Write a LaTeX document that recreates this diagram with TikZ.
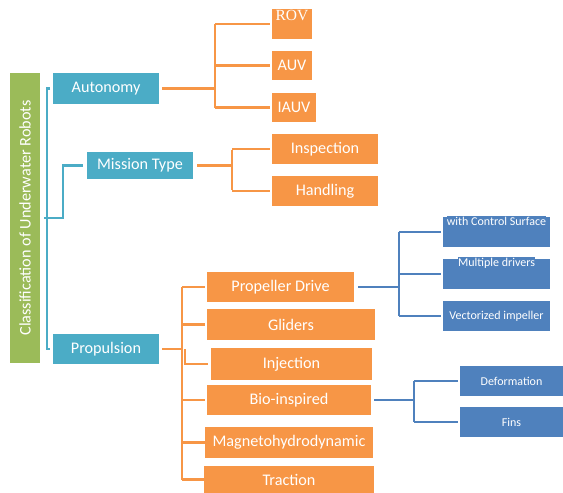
\documentclass[tikz,border=0pt]{standalone}
\usepackage{fontspec}
\setmainfont{Carlito}
\newfontfamily\serifcam{Liberation Serif}
\definecolor{teal1}{HTML}{4BACC6}
\definecolor{orng}{HTML}{F79646}
\definecolor{blu}{HTML}{4F81BD}
\definecolor{grn}{HTML}{9BBB59}
\begin{document}
\begin{tikzpicture}[x=1pt,y=-1pt,
  box/.style={inner sep=0pt,outer sep=0pt,text=white,font=\fontsize{16.2}{18}\selectfont},
  tbox/.style={box,fill=teal1},
  obox/.style={box,fill=orng},
  bbox/.style={box,fill=blu,font=\fontsize{12}{14}\selectfont},
  tline/.style={draw=teal1,line width=2.5pt},
  oline/.style={draw=orng,line width=2.5pt},
  bline/.style={draw=blu,line width=2.5pt}]
\useasboundingbox (0,0) rectangle (563,493);
% root
\node[box,fill=grn,minimum width=290,minimum height=30,rotate=90] (root) at (25,218) {Classification of Underwater Robots};
% level 1
\node[tbox,minimum width=106,minimum height=31] (auto) at (106,88.5) {Autonomy};
\node[tbox,minimum width=106,minimum height=27] (mission) at (140,165.5) {Mission Type};
\node[tbox,minimum width=106,minimum height=30] (prop) at (106,349) {Propulsion};
% autonomy children
\node[obox,minimum width=40,minimum height=30] (rov) at (292,24) {};
\node[box,anchor=north,font=\serifcam\fontsize{15.5}{17}\selectfont] (rovt) at (rov.north) {\strut ROV};
\node[obox,minimum width=40,minimum height=29] (auv) at (292,65.5) {AUV};
\node[obox,minimum width=44,minimum height=29] (iauv) at (294,107.5) {IAUV};
% mission children
\node[obox,minimum width=106,minimum height=30] (insp) at (325,149) {Inspection};
\node[obox,minimum width=106,minimum height=30] (hand) at (325,191) {Handling};
% propulsion children
\node[obox,minimum width=147,minimum height=30] (pd) at (280.5,287) {Propeller Drive};
\node[obox,minimum width=168,minimum height=31] (gli) at (291,324.5) {Gliders};
\node[obox,minimum width=161,minimum height=32] (inj) at (291.5,364) {Injection};
\node[obox,minimum width=164,minimum height=30] (bio) at (289,400) {Bio-inspired};
\node[obox,minimum width=168,minimum height=31] (mhd) at (289,442.5) {Magnetohydrodynamic};
\node[obox,minimum width=170,minimum height=27] (tra) at (289,479.5) {Traction};
% propeller children
\node[bbox,minimum width=107,minimum height=30] (wcs) at (496.5,232) {};
\node[bbox,anchor=north] at ([yshift=1]wcs.north) {\strut with Control Surface};
\node[bbox,minimum width=107,minimum height=30] (md) at (496.5,274) {};
\node[bbox,anchor=north] at ([yshift=2]md.north) {\strut Multiple drivers};
\node[bbox,minimum width=107,minimum height=30] (vi) at (496.5,316) {Vectorized impeller};
% bio children
\node[bbox,minimum width=103,minimum height=30] (def) at (511.5,381) {Deformation};
\node[bbox,minimum width=103,minimum height=30] (fins) at (511.5,422) {Fins};
% teal connectors
\draw[tline] ([xshift=-3]auto.west) -- ++(-3,0) |- ([xshift=-3]prop.west);
\coordinate (mj) at (44,218);
\draw[tline] ([xshift=-4]mission.west) -| (63,218) -- (mj);
% autonomy connectors
\draw[oline] ([xshift=3]auto.east) -- ++(53,0) coordinate (aj);
\draw[oline] (aj |- rov.west) -- (aj |- iauv.west);
\foreach \n in {rov,auv,iauv} \draw[oline] (aj |- \n.west) -- ([xshift=-2]\n.west);
% mission connectors
\draw[oline] ([xshift=4]mission.east) -- ++(35,0) coordinate (mjn);
\draw[oline] ([yshift=-1]mjn |- insp.west) -- ([yshift=1]mjn |- hand.west);
\foreach \n in {insp,hand} \draw[oline] (mjn |- \n.west) -- ([xshift=-2]\n.west);
% propulsion connectors
\draw[oline] ([xshift=3]prop.east) -- ++(20,0) coordinate (pj);
\draw[oline] (pj |- pd.west) -- (pj |- tra.west);
\foreach \n in {pd,gli,bio,mhd,tra} \draw[oline] (pj |- \n.west) -- (205,0 |- \n.west);
\draw[oline] ([xshift=3]pj) -- ([xshift=3]pj |- inj.west) -- ([xshift=-3]inj.west);
% blue connectors
\draw[bline] ([xshift=4]pd.east) -- ++(41,0) coordinate (bj);
\draw[bline] (bj |- wcs.west) -- (bj |- vi.west);
\foreach \n in {wcs,md,vi} \draw[bline] (bj |- \n.west) -- ([xshift=-2]\n.west);
\draw[bline] ([xshift=3]bio.east) -- ++(40,0) coordinate (bk);
\draw[bline] (bk |- def.west) -- (bk |- fins.west);
\foreach \n in {def,fins} \draw[bline] (bk |- \n.west) -- ([xshift=-2]\n.west);
\end{tikzpicture}
\end{document}
